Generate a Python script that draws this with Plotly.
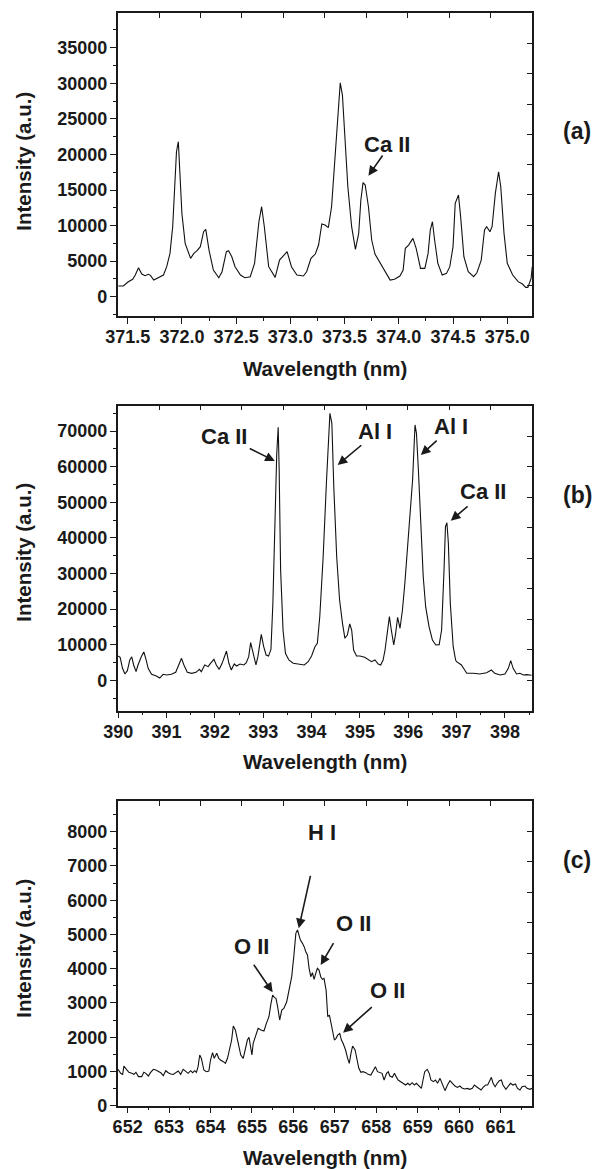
import plotly.graph_objects as go

# ---------------- data ----------------
wl_a = [371.414, 371.46, 371.506, 371.546, 371.57, 371.60, 371.63, 371.66, 371.69, 371.71, 371.74, 371.78,
        371.83, 371.86, 371.89, 371.915, 371.936, 371.95, 371.967, 371.98, 372.00, 372.03, 372.08, 372.11,
        372.14, 372.17, 372.20, 372.22, 372.25, 372.29, 372.34, 372.37, 372.41, 372.43, 372.46, 372.49,
        372.54, 372.58, 372.63, 372.67, 372.71, 372.735, 372.76, 372.80, 372.86, 372.90, 372.97, 373.01,
        373.06, 373.12, 373.15, 373.19, 373.23, 373.26, 373.29, 373.32, 373.35, 373.38, 373.41, 373.44,
        373.46, 373.48, 373.50, 373.53, 373.565, 373.59, 373.60, 373.63, 373.65, 373.67, 373.69, 373.72,
        373.75, 373.78, 373.83, 373.87, 373.92, 373.96, 374.01, 374.04, 374.06, 374.09, 374.11, 374.13,
        374.16, 374.20, 374.24, 374.27, 374.29, 374.31, 374.33, 374.36, 374.40, 374.44, 374.47, 374.50,
        374.52, 374.55, 374.57, 374.60, 374.64, 374.69, 374.72, 374.76, 374.79, 374.81, 374.84, 374.86,
        374.89, 374.92, 374.94, 374.97, 375.00, 375.05, 375.10, 375.14, 375.17, 375.19, 375.22, 375.23]
int_a = [1500, 1500, 2100, 2440, 3050, 4080, 3190, 2950, 3140, 3000, 2340, 2670,
         3050, 4220, 6090, 9840, 16870, 20380, 21790, 18280, 11700, 7500, 5390, 6090,
         6470, 7030, 9140, 9470, 6560, 3750, 2670, 3510, 6330, 6470, 5620, 4220,
         3050, 2670, 2810, 4690, 10540, 12650, 9840, 4220, 2720, 5150, 6330, 4220,
         3050, 2910, 3510, 5390, 6000, 7260, 10220, 10080, 9700, 12650, 19210, 26240,
         30080, 28350, 22960, 15460, 9840, 7030, 6650, 8900, 13590, 16030, 15700, 12650,
         7970, 6000, 4690, 3510, 2340, 2440, 2910, 3750, 6800, 7260, 7730, 8200,
         6800, 3980, 3980, 6090, 9370, 10540, 7970, 4690, 3050, 3280, 4220, 7030,
         13120, 14290, 11250, 5620, 3510, 2810, 3370, 5150, 9370, 9840, 9140, 9840,
         14530, 17570, 15460, 8900, 4690, 3050, 2110, 1780, 1310, 1310, 2580, 4220]

wl_b = [390.00, 390.04, 390.09, 390.14, 390.19, 390.24, 390.28, 390.32, 390.37, 390.41, 390.48, 390.53,
        390.57, 390.62, 390.69, 390.79, 390.86, 390.93, 391.00, 391.10, 391.19, 391.26, 391.31, 391.36,
        391.43, 391.52, 391.61, 391.68, 391.72, 391.79, 391.86, 391.91, 391.98, 392.03, 392.09, 392.15,
        392.24, 392.29, 392.34, 392.40, 392.45, 392.52, 392.60, 392.65, 392.70, 392.74, 392.79, 392.85,
        392.89, 392.96, 393.01, 393.06, 393.11, 393.16, 393.20, 393.24, 393.28, 393.31, 393.33, 393.36,
        393.41, 393.46, 393.53, 393.62, 393.76, 393.85, 393.93, 394.00, 394.07, 394.12, 394.17, 394.24,
        394.31, 394.35, 394.38, 394.42, 394.46, 394.52, 394.58, 394.64, 394.69, 394.74, 394.79, 394.83,
        394.87, 394.93, 395.00, 395.10, 395.17, 395.24, 395.31, 395.38, 395.43, 395.48, 395.52, 395.57,
        395.61, 395.65, 395.70, 395.74, 395.78, 395.83, 395.88, 395.93, 396.00, 396.05, 396.09, 396.14,
        396.17, 396.21, 396.25, 396.31, 396.36, 396.43, 396.50, 396.57, 396.64, 396.69, 396.74, 396.77,
        396.80, 396.83, 396.87, 396.93, 396.98, 397.00, 397.10, 397.15, 397.21, 397.35, 397.48, 397.62,
        397.72, 397.79, 397.90, 398.00, 398.07, 398.12, 398.17, 398.24, 398.31, 398.38, 398.45, 398.55]
int_b = [6826, 6450, 3360, 1770, 2700, 5700, 6600, 4300, 2420, 4300, 6660, 7950,
         6170, 3360, 1680, 1210, 640, 1680, 1490, 1680, 2240, 4770, 6170, 4300,
         2240, 1960, 2240, 3080, 2420, 4300, 3830, 4770, 5900, 4300, 3080, 4770,
         8230, 4770, 2890, 4580, 4020, 4580, 4300, 4950, 6630, 10560, 7580, 4300,
         6630, 12920, 9440, 7110, 6800, 8700, 21630, 45030, 63760, 71070, 59070, 30980,
         14130, 7580, 5700, 4770, 4580, 4300, 5230, 6830, 9440, 10390, 17870, 34720,
         56270, 69830, 75000, 72190, 54380, 34720, 22560, 16010, 11800, 12730, 15820, 14130,
         8510, 6830, 6830, 6450, 5900, 5230, 5700, 4580, 4300, 5700, 8510, 13200,
         17870, 14130, 9920, 13200, 17700, 14610, 19750, 27250, 40340, 49720, 56270, 71720,
         69380, 59070, 45030, 29100, 20670, 15060, 11320, 9920, 10010, 14130, 30980, 43150,
         44270, 38480, 21630, 9440, 5700, 5230, 4300, 3080, 1960, 1960, 1770, 2140,
         2890, 1960, 1490, 1770, 3360, 5510, 3360, 1770, 1960, 1490, 1580, 1400]

wl_c = [651.77, 651.83, 651.88, 651.91, 651.97, 652.03, 652.10, 652.15, 652.20, 652.26, 652.34, 652.39,
        652.44, 652.50, 652.55, 652.62, 652.68, 652.74, 652.80, 652.86, 652.92, 652.98, 653.04, 653.10,
        653.17, 653.22, 653.28, 653.34, 653.41, 653.46, 653.52, 653.57, 653.62, 653.66, 653.70, 653.74,
        653.78, 653.84, 653.90, 653.96, 654.00, 654.05, 654.09, 654.15, 654.20, 654.24, 654.31, 654.36,
        654.41, 654.47, 654.51, 654.55, 654.60, 654.67, 654.73, 654.79, 654.84, 654.89, 654.93, 654.97,
        655.00, 655.03, 655.09, 655.15, 655.22, 655.29, 655.35, 655.41, 655.46, 655.50, 655.54, 655.58,
        655.62, 655.67, 655.72, 655.77, 655.84, 655.90, 655.96, 656.01, 656.06, 656.10, 656.14, 656.17,
        656.22, 656.26, 656.30, 656.34, 656.38, 656.42, 656.46, 656.50, 656.54, 656.58, 656.62, 656.66,
        656.70, 656.74, 656.79, 656.83, 656.87, 656.91, 656.95, 656.99, 657.03, 657.07, 657.12, 657.16,
        657.20, 657.26, 657.31, 657.35, 657.39, 657.43, 657.49, 657.53, 657.58, 657.63, 657.68, 657.75,
        657.80, 657.87, 657.93, 657.98, 658.03, 658.09, 658.14, 658.19, 658.25, 658.29, 658.33, 658.39,
        658.44, 658.48, 658.53, 658.59, 658.65, 658.71, 658.76, 658.81, 658.87, 658.92, 658.97, 659.04,
        659.09, 659.13, 659.17, 659.23, 659.28, 659.32, 659.38, 659.43, 659.48, 659.54, 659.60, 659.66,
        659.72, 659.78, 659.84, 659.90, 659.96, 660.02, 660.08, 660.14, 660.20, 660.26, 660.32, 660.37,
        660.42, 660.48, 660.53, 660.58, 660.64, 660.69, 660.73, 660.78, 660.82, 660.87, 660.92, 660.97,
        661.02, 661.06, 661.13, 661.18, 661.24, 661.30, 661.36, 661.41, 661.47, 661.52, 661.59, 661.64,
        661.71, 661.76]
int_c = [1062, 945, 915, 1160, 1060, 974, 945, 915, 974, 848, 848, 974,
         945, 867, 964, 1062, 1042, 993, 964, 877, 1022, 964, 925, 915,
         974, 1013, 915, 1062, 993, 945, 1022, 964, 1022, 974, 1140, 1480,
         1380, 1042, 993, 1013, 1334, 1548, 1383, 1529, 1383, 1334, 1285, 1237,
         1383, 1675, 1918, 2326, 2210, 1821, 1480, 1383, 1675, 1918, 1996, 1675,
         1480, 1821, 2064, 2258, 2210, 2180, 2404, 2598, 2988, 3231, 3163, 3134,
         2890, 2501, 2793, 2842, 3036, 3377, 3767, 4351, 5032, 5129, 4983, 4837,
         4740, 4643, 4497, 4399, 4010, 3767, 3883, 3689, 3864, 4010, 3961, 3767,
         3689, 3718, 3377, 2598, 2647, 2404, 2161, 1918, 1967, 2064, 2112, 1918,
         1821, 1626, 1383, 1237, 1529, 1743, 1626, 1383, 1091, 974, 993, 964,
         915, 896, 1042, 1140, 993, 964, 945, 750, 945, 993, 867, 828,
         945, 848, 750, 701, 653, 604, 653, 604, 672, 604, 653, 555,
         506, 750, 993, 1062, 945, 750, 701, 750, 653, 798, 604, 439,
         604, 730, 653, 574, 535, 574, 506, 487, 506, 477, 506, 604,
         555, 487, 458, 535, 604, 604, 701, 828, 653, 555, 653, 730,
         750, 604, 477, 555, 653, 604, 633, 506, 458, 555, 574, 506,
         477, 506]

x_ranges = [[371.408, 375.228], [389.99, 398.56], [651.76, 661.76]]
y_ranges = [[-2713, 39840], [-8540, 77130], [0, 8896]]
x_dticks = [0.5, 1, 1]
x_minor = [0.25, 0.5, 0.5]
y_dticks = [5000, 10000, 1000]
y_minor = [2500, 5000, 500]
x_formats = [".1f", "d", "d"]
panel_labels = ["(a)", "(b)", "(c)"]

# annotations: (panel, text, x, y)
peak_texts = [(1, "Ca II", 373.89, 21465),
              (2, "Ca II", 392.18, 68343), (2, "Al I", 395.32, 69747),
              (2, "Al I", 396.88, 71152), (2, "Ca II", 397.55, 53090),
              (3, "H I", 656.68, 7962), (3, "O II", 657.46, 5334),
              (3, "O II", 654.98, 4634), (3, "O II", 658.27, 3349)]
# arrows: (panel, tail x, tail y, tip x, tip y)
peak_arrows = [(1, 373.86, 20059, 373.72, 17009),
               (2, 392.69, 65337, 393.24, 61601), (2, 395.06, 66376, 394.54, 60478),
               (2, 396.62, 67697, 396.26, 63287), (2, 397.26, 49242, 396.88, 44831),
               (3, 656.42, 6756, 656.13, 5180), (3, 656.99, 4788, 656.66, 4108),
               (3, 655.02, 4158, 655.50, 3311), (3, 657.93, 2920, 657.20, 2131)]

# ---------------- layout geometry ----------------
# the page body has an 8 px default margin; the figure is sized to fill the rest of the window
OFF = 8
W, H = 601 - OFF, 1169 - OFF


def px(xp):
    return (xp - OFF) / W


def py(yp):
    return 1 - (yp - OFF) / H


xdom = [px(117.7), px(532)]
ydoms = [[py(316), py(13.3)], [py(710.7), py(405.7)], [py(1105.7), py(801)]]
xtitle_y = [368, 761, 1157]
ytitle_y = [161, 552, 948]
label_y = [131, 495, 860]

INK = "#1a1a1a"
FONT = "Liberation Sans, Arial, sans-serif"

fig = go.Figure()
series = [(wl_a, int_a), (wl_b, int_b), (wl_c, int_c)]
for i, (xs, ys) in enumerate(series, start=1):
    fig.add_trace(go.Scatter(x=xs, y=ys, mode="lines", line=dict(color="#111111", width=1.1),
                             xaxis=f"x{i}" if i > 1 else "x", yaxis=f"y{i}" if i > 1 else "y",
                             showlegend=False, hoverinfo="skip"))
    # empty traces to activate the mirror (top/right) axes
    fig.add_trace(go.Scatter(x=[], y=[], xaxis=f"x{i+3}", yaxis=f"y{i+3}", showlegend=False))

layout = dict(width=W, height=H, margin=dict(l=0, r=0, t=0, b=0),
              paper_bgcolor="white", plot_bgcolor="white", showlegend=False,
              font=dict(family=FONT, color=INK))
annotations = []
for k in range(3):
    i = k + 1
    xn = "xaxis" if i == 1 else f"xaxis{i}"
    yn = "yaxis" if i == 1 else f"yaxis{i}"
    xa = "x" if i == 1 else f"x{i}"
    ya = "y" if i == 1 else f"y{i}"
    common_tick = dict(ticks="outside", ticklen=6, tickwidth=1.3, tickcolor=INK,
                       showline=True, linewidth=1.5, linecolor=INK, showgrid=False, zeroline=False,
                       tickfont=dict(family=FONT, size=18, color=INK, weight="bold"),
                       tickmode="linear", automargin=False)
    layout[xn] = dict(domain=xdom, anchor=ya, range=x_ranges[k], tick0=0, dtick=x_dticks[k],
                      tickformat=x_formats[k], ticklabelstandoff=-2,
                      minor=dict(dtick=x_minor[k], ticks="outside", ticklen=3, tickwidth=1.2, tickcolor=INK),
                      **common_tick)
    layout[yn] = dict(domain=ydoms[k], anchor=xa, range=y_ranges[k], tick0=0, dtick=y_dticks[k],
                      tickformat="d", ticklabelstandoff=-1,
                      minor=dict(dtick=y_minor[k], ticks="outside", ticklen=3, tickwidth=1.2, tickcolor=INK),
                      **common_tick)
    # mirror axes: top and right with inward ticks (10 equal divisions)
    layout[f"xaxis{i+3}"] = dict(overlaying=xa, anchor=ya, side="top", range=[0, 10], tickmode="linear",
                                 tick0=0, dtick=1, ticks="inside", ticklen=5, tickwidth=1.2, tickcolor=INK,
                                 showticklabels=False, showline=True, linewidth=1.5, linecolor=INK,
                                 showgrid=False, zeroline=False)
    layout[f"yaxis{i+3}"] = dict(overlaying=ya, anchor=xa, side="right", range=[0, 10], tickmode="linear",
                                 tick0=0, dtick=1, ticks="inside", ticklen=5, tickwidth=1.2, tickcolor=INK,
                                 showticklabels=False, showline=True, linewidth=1.5, linecolor=INK,
                                 showgrid=False, zeroline=False)
    annotations.append(dict(text="<b>Wavelength (nm)</b>", xref="paper", yref="paper",
                            x=px(324.5), y=py(xtitle_y[k]), showarrow=False,
                            font=dict(family=FONT, size=20.5, color=INK), xanchor="center", yanchor="middle"))
    annotations.append(dict(text="<b>Intensity (a.u.)</b>", xref="paper", yref="paper",
                            x=px(22.7), y=py(ytitle_y[k]), showarrow=False, textangle=-90,
                            font=dict(family=FONT, size=20.5, color=INK), xanchor="center", yanchor="middle"))
    annotations.append(dict(text=f"<b>{panel_labels[k]}</b>", xref="paper", yref="paper",
                            x=px(577), y=py(label_y[k]), showarrow=False,
                            font=dict(family=FONT, size=23, color=INK), xanchor="center", yanchor="middle"))

for p, t, x, y in peak_texts:
    xa = "x" if p == 1 else f"x{p}"
    ya = "y" if p == 1 else f"y{p}"
    annotations.append(dict(text=f"<b>{t}</b>", xref=xa, yref=ya, x=x, y=y, showarrow=False,
                            font=dict(family=FONT, size=22, color=INK), xanchor="center", yanchor="middle"))
for p, tx, ty, hx, hy in peak_arrows:
    xa = "x" if p == 1 else f"x{p}"
    ya = "y" if p == 1 else f"y{p}"
    annotations.append(dict(text="", xref=xa, yref=ya, x=hx, y=hy, axref=xa, ayref=ya, ax=tx, ay=ty,
                            showarrow=True, arrowhead=2, arrowsize=1.2, arrowwidth=1.6, arrowcolor=INK,
                            standoff=0, startstandoff=0))

layout["annotations"] = annotations
fig.update_layout(**layout)
fig.write_html("out.html")
